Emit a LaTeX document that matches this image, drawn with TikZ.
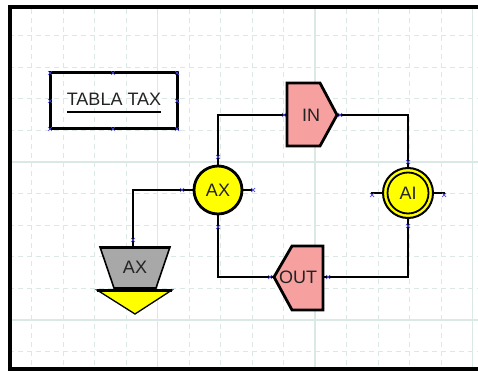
\documentclass[tikz,border=0pt]{standalone}
\usepackage{fontspec}
\setmainfont{Liberation Sans}
\definecolor{gridc}{RGB}{218,232,230}
\definecolor{pinkf}{RGB}{246,160,160}
\definecolor{yelf}{RGB}{255,255,0}
\definecolor{grayf}{RGB}{168,168,168}
\definecolor{markc}{RGB}{70,70,235}
\definecolor{txtc}{RGB}{35,35,35}
\tikzset{
  gridsolid/.style={draw=gridc, line width=1.4pt},
  griddash/.style={draw=gridc, line width=1pt, dash pattern=on 5pt off 4pt},
  conn/.style={draw=black, line width=2.6pt},
  shapeline/.style={draw=black, line width=2.8pt, line join=miter},
  lbl/.style={font=\fontsize{18}{21}\selectfont, text=txtc, inner sep=0pt},
  pin/.pic={\draw[markc, line width=0.7pt] (-2,-2) -- (2,2) (-2,2) -- (2,-2);}
}
\begin{document}
\begin{tikzpicture}[x=1pt,y=-1pt]
\useasboundingbox (0,0) rectangle (478,371);
\fill[white] (0,0) rectangle (478,371);
% grid
\begin{scope}
\clip (12,9) rectangle (478,367);
\foreach \k in {1,...,15}{
  \pgfmathtruncatemacro{\m}{mod(\k,5)}
  \ifnum\m=0 \draw[gridsolid] (31.5*\k,0) -- (31.5*\k,371);
  \else \draw[griddash] (31.5*\k,0) -- (31.5*\k,371); \fi
}
\foreach \k in {1,...,11}{
  \pgfmathtruncatemacro{\m}{mod(\k,5)}
  \ifnum\m=0 \draw[gridsolid] (0,4+31.6*\k) -- (478,4+31.6*\k);
  \else \draw[griddash] (0,4+31.6*\k) -- (478,4+31.6*\k); \fi
}
\end{scope}
% frame
\fill[black] (8,5) rectangle (478,9);
\fill[black] (8,5) rectangle (12,371);
\fill[black] (8,367) rectangle (478,371);

% TABLA TAX
\node[draw=black, line width=3pt, minimum width=127pt, minimum height=56pt, inner sep=0pt] (tabla) at (113.5,101) {};
\node[lbl] (tablatxt) at (114,99) {TABLA TAX};
\draw[black, line width=1.4pt] (67,112) -- (161,112);

% IN shape
\draw[shapeline, fill=pinkf] (287,83) -- (320,83) -- (337,115) -- (320,146) -- (287,146) -- cycle;
\node[lbl] (in) at (311,115) {IN};
\coordinate (inL) at (287,115);
\coordinate (inR) at (337,115);

% OUT shape
\draw[shapeline, fill=pinkf] (274,277) -- (292,246) -- (323,246) -- (323,310) -- (292,310) -- cycle;
\node[lbl] (out) at (298,277) {OUT};
\coordinate (outL) at (274,277);
\coordinate (outR) at (323,277);

% AX circle
\node[circle, draw=black, line width=2.8pt, fill=yelf, minimum size=48pt, inner sep=0pt, lbl] (ax) at (218,190) {AX};

% AI double circle
\node[circle, draw=black, line width=2pt, fill=yelf, minimum size=50pt, inner sep=0pt] (ai) at (408,193) {};
\draw[black, line width=1.8pt] (ai.center) circle[radius=20.5];
\node[lbl] (aitxt) at (ai.center) {AI};

% gray trapezoid + yellow triangle
\draw[black, line width=1.3pt, fill=yelf] (97,290) -- (172,290) -- (135,314) -- cycle;
\draw[black, line width=3pt] (97,290) -- (172,290);
\draw[black, line width=1.6pt, fill=grayf] (100,247) -- (170,247) -- (156,288) -- (114,288) -- cycle;
\draw[black, line width=3pt] (100,247) -- (170,247);
\node[lbl] (axg) at (135,267) {AX};
\coordinate (trapT) at (133,247);

% connectors
\draw[conn] (ax.north) |- (inL);
\draw[conn] (inR) -| (ai.north);
\draw[conn] (ax.south) |- (outL);
\draw[conn] (outR) -| (ai.south);
\draw[conn] (trapT) |- (ax.west);
\coordinate (axstub) at (252,190);
\coordinate (aistubL) at (371,193);
\coordinate (aistubR) at (445,193);
\draw[conn] (ax.east) -- (axstub);
\draw[conn] (aistubL) -- (ai.west);
\draw[conn] (ai.east) -- (aistubR);

% connection markers
\foreach \p in {(50,73),(113,73),(177,73),(50,101),(177,101),(50,129),(113,129),(177,129),
  (284,115),(340,115),(218,157),(182,190),(253,190),(218,227),(133,240),
  (408,162),(408,226),(372,195),(444,195),(270,277),(328,277)}
  \pic at \p {pin};
\end{tikzpicture}
\end{document}
